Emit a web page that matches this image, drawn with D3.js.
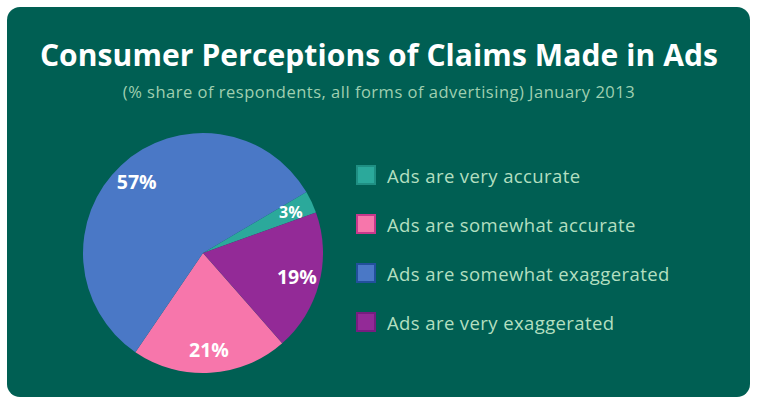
<!DOCTYPE html>
<html>
<head>
<meta charset="utf-8">
<script src="https://cdn.jsdelivr.net/npm/d3@7"></script>
<style>
  body { margin: 0; background: #fff; }
  svg { display: block; }
</style>
</head>
<body>
<div id="chart"></div>
<script>
var width = 757;
var height = 404;

// data, legend order
var labels = ["Ads are very accurate", "Ads are somewhat accurate", "Ads are somewhat exaggerated", "Ads are very exaggerated"];
var values = [3, 21, 57, 19];
var colors = ["#2ba99b", "#f776ab", "#4a78c6", "#932a97"];
var borders = ["#1f8f83", "#c8388c", "#22509c", "#761d80"];

var svg = d3.select("#chart")
      .append("svg")
      .attr("width", width)
      .attr("height", height);

svg.append("rect")
   .attr("x", 7)
   .attr("y", 7)
   .attr("width", 743)
   .attr("height", 390)
   .attr("rx", 13)
   .attr("fill", "#005f53");

svg.append("text")
   .attr("x", 379)
   .attr("y", 66)
   .attr("text-anchor", "middle")
   .attr("font-family", "Open Sans")
   .attr("font-weight", "bold")
   .attr("font-size", 30)
   .attr("letter-spacing", 0.1)
   .attr("fill", "#fff")
   .text("Consumer Perceptions of Claims Made in Ads");

svg.append("text")
   .attr("x", 379)
   .attr("y", 98)
   .attr("text-anchor", "middle")
   .attr("font-family", "Open Sans")
   .attr("font-size", 16.5)
   .attr("letter-spacing", 0.5)
   .attr("fill", "#9fcfb0")
   .text("(% share of respondents, all forms of advertising) January 2013");

var data = labels.map(function(l, i){
  return {label: l, value: values[i], color: colors[i]};
});

var radius = 120;
var pie_g = svg.append("g")
   .attr("transform", "translate(203,253)");

var pie = d3.pie()
   .value(function(d){ return d.value; })
   .sort(function(a, b){ return a.value - b.value; })
   .startAngle(59.5 * Math.PI / 180)
   .endAngle(59.5 * Math.PI / 180 + 2 * Math.PI);

var arc = d3.arc().innerRadius(0).outerRadius(radius);
var labelArc = d3.arc().innerRadius(97).outerRadius(97);

var arcs = pie(data);

pie_g.selectAll("path")
   .data(arcs)
   .enter()
   .append("path")
   .attr("d", arc)
   .attr("fill", function(d){ return d.data.color; });

pie_g.selectAll("text")
   .data(arcs)
   .enter()
   .append("text")
   .attr("transform", function(d){ return "translate(" + labelArc.centroid(d) + ")"; })
   .attr("dy", "0.36em")
   .attr("text-anchor", "middle")
   .attr("font-family", "Open Sans")
   .attr("font-weight", "bold")
   .attr("font-size", function(d){ return d.data.value < 5 ? 16 : 19.5; })
   .attr("fill", "#fff")
   .text(function(d){ return d.data.value + "%"; });

var legend_y = d3.scalePoint()
   .domain(labels)
   .range([175, 322]);

var legend = svg.append("g")
   .selectAll("g")
   .data(data)
   .enter()
   .append("g")
   .attr("transform", function(d){ return "translate(356," + legend_y(d.label) + ")"; });

legend.append("rect")
   .attr("x", 1)
   .attr("y", -9)
   .attr("width", 18)
   .attr("height", 18)
   .attr("fill", function(d){ return d.color; })
   .attr("stroke", function(d, i){ return borders[i]; })
   .attr("stroke-width", 2);

legend.append("text")
   .attr("x", 31)
   .attr("y", 7.5)
   .attr("font-family", "Open Sans")
   .attr("font-size", 18.5)
   .attr("letter-spacing", 0.4)
   .attr("fill", "#b3dfc0")
   .text(function(d){ return d.label; });
</script>
</body>
</html>
